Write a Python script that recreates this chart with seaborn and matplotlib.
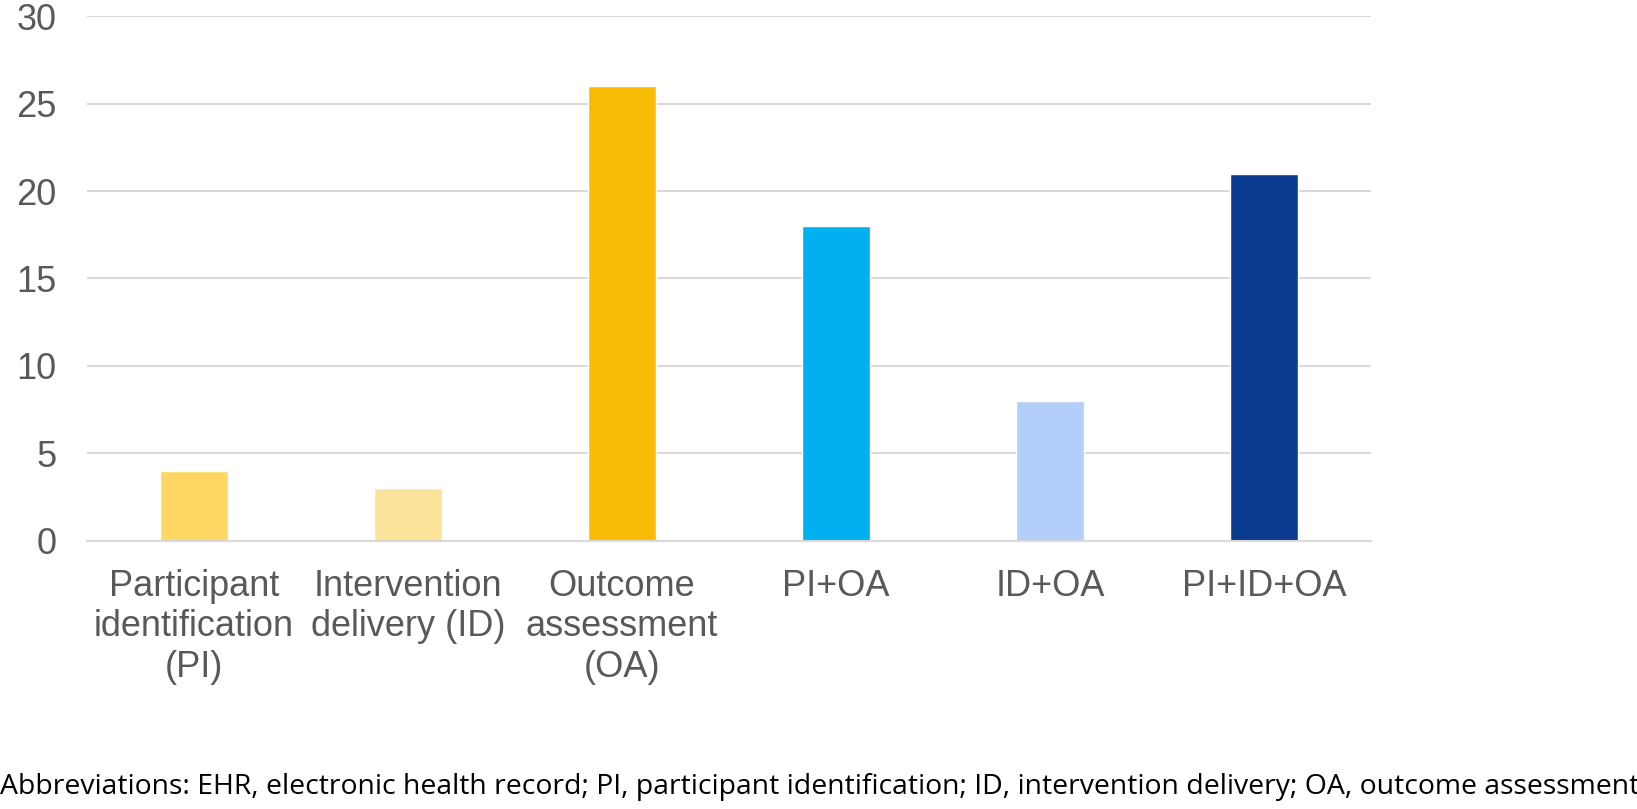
import matplotlib
matplotlib.use("Agg")
import matplotlib.pyplot as plt
import seaborn as sns

categories = ["Participant\nidentification\n(PI)", "Intervention\ndelivery (ID)",
              "Outcome\nassessment\n(OA)", "PI+OA", "ID+OA", "PI+ID+OA"]
counts = [4, 3, 26, 18, 8, 21]
bar_colors = ["#FDD663", "#FCE39A", "#F9BC06", "#03B0EF", "#B4CEFA", "#0B3B8F"]
y_ticks = [0, 5, 10, 15, 20, 25, 30]
note = ("Abbreviations: EHR, electronic health record; PI, participant identification; "
        "ID, intervention delivery; OA, outcome assessment")

sns.set_style("white")
plt.rcParams['font.family'] = ['Liberation Sans', 'DejaVu Sans']

fig = plt.figure(figsize=(16.37, 8.09), dpi=100)
ax = fig.add_axes([0.0531, 0.3313, 0.7844, 0.6489])

sns.barplot(x=categories, y=counts, hue=categories, palette=bar_colors,
            legend=False, width=0.32, saturation=1, ax=ax)

ax.set_ylim(0, 30)
ax.set_xlim(-0.5, len(categories) - 0.5)
ax.set_yticks(y_ticks)
ax.yaxis.grid(True, color="#D9D9D9", linewidth=1.5)
ax.set_axisbelow(True)
for side in ["top", "right", "left"]:
    ax.spines[side].set_visible(False)
ax.spines["bottom"].set_color("#D9D9D9")
ax.spines["bottom"].set_linewidth(1.5)
ax.tick_params(axis="both", length=0, labelsize=26, labelcolor="#595959")
ax.tick_params(axis="y", pad=22)
ax.tick_params(axis="x", pad=20)
for lbl in ax.get_xticklabels():
    lbl.set_linespacing(1.2)
ax.set_xlabel("")
ax.set_ylabel("")

fig.text(0.0, 0.018, note, fontsize=20.4, color="black",
         family=["Open Sans", "DejaVu Sans"], ha="left", va="baseline")

fig.savefig("out.png", dpi=100, facecolor="white")
